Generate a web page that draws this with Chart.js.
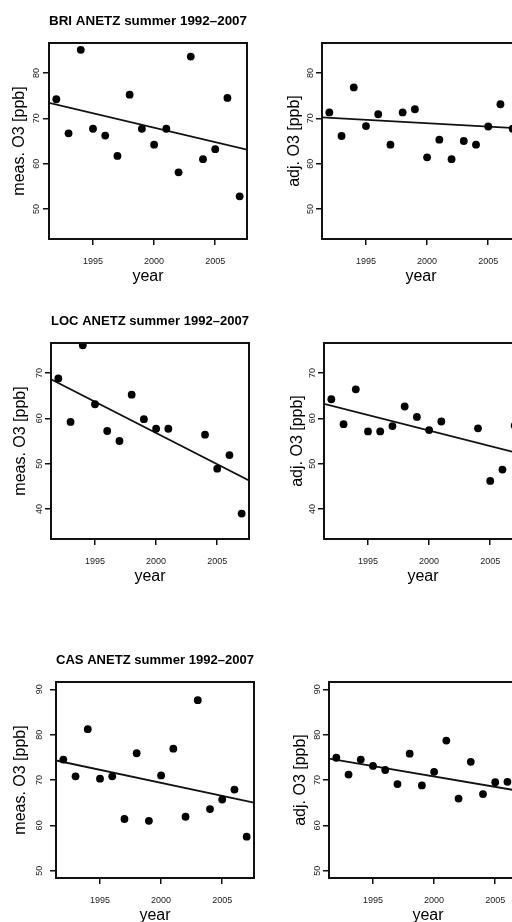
<!DOCTYPE html>
<html>
<head>
<meta charset="utf-8">
<script src="https://cdn.jsdelivr.net/npm/chart.js@4/dist/chart.umd.min.js"></script>
<style>
html, body { margin: 0; padding: 0; background: #fff; overflow: hidden; width: 512px; height: 922px; }
canvas { position: absolute; }
</style>
</head>
<body>
<canvas id="briMeas" width="260" height="290" style="left:0px;top:0px"></canvas>
<canvas id="briAdj" width="260" height="290" style="left:273px;top:0px"></canvas>
<canvas id="locMeas" width="260" height="290" style="left:2px;top:300px"></canvas>
<canvas id="locAdj" width="260" height="290" style="left:275px;top:300px"></canvas>
<canvas id="casMeas" width="260" height="290" style="left:7px;top:639px"></canvas>
<canvas id="casAdj" width="260" height="290" style="left:280px;top:639px"></canvas>
<script>
// summer ozone per year
const years = [1992, 1993, 1994, 1995, 1996, 1997, 1998, 1999, 2000, 2001, 2002, 2003, 2004, 2005, 2006, 2007];

const briMeas = [74.2, 66.7, 85.1, 67.7, 66.2, 61.7, 75.2, 67.7, 64.2, 67.7, 58.1, 83.6, 61.0, 63.2, 74.5, 52.8];
const briAdj  = [71.3, 66.1, 76.8, 68.3, 70.9, 64.2, 71.3, 72.0, 61.4, 65.3, 61.0, 65.0, 64.2, 68.2, 73.1, 67.7];
const locMeas = [68.8, 59.2, 76.1, 63.1, 57.2, 55.0, 65.2, 59.8, 57.7, 57.7, null, null, 56.4, 48.9, 51.9, 39.0];
const locAdj  = [64.2, 58.7, 66.4, 57.1, 57.1, 58.3, 62.6, 60.3, 57.4, 59.3, null, null, 57.8, 46.2, 48.7, 58.4];
const casMeas = [74.5, 70.8, 81.2, 70.3, 70.8, 61.4, 75.9, 61.0, 71.0, 76.9, 61.9, 87.6, 63.6, 65.7, 67.9, 57.5];
const casAdj  = [74.9, 71.2, 74.5, 73.1, 72.2, 69.1, 75.8, 68.8, 71.8, 78.7, 65.9, 74.0, 66.9, 69.5, 69.6, null];

// regression lines, value at both ends of the x range
const trendYears = [1991.4, 2007.6];
const briMeasTrend = [73.4, 63.1];
const briAdjTrend  = [70.2, 67.8];
const locMeasTrend = [68.6, 46.3];
const locAdjTrend  = [63.2, 52.1];
const casMeasTrend = [74.3, 65.0];
const casAdjTrend  = [74.7, 67.3];

const xRange = [1991.4, 2007.6];
const briRange = [43.4, 86.6];
const locRange = [33.4, 76.6];
const casRange = [48.4, 91.6];

const FONT = "'Liberation Sans', Arial, Helvetica, sans-serif";

// draws the box around the plot region like R's box()
const boxPlugin = {
	id: 'box',
	afterDraw(chart) {
		const a = chart.chartArea;
		const c = chart.ctx;
		c.save();
		c.strokeStyle = '#111';
		c.lineWidth = 2;
		c.strokeRect(a.left, a.top, a.right - a.left, a.bottom - a.top);
		c.restore();
	}
};

function makePanel(id, title, values, trend, yRange, yLabel, yTitleGap, yTickGap)
{
	const ctx = document.getElementById(id).getContext('2d');
	return new Chart(ctx, {
		type: 'scatter',
		data: {
			datasets: [{
				data: years.map((y, i) => ({ x: y, y: values[i] })),
				backgroundColor: '#000',
				borderWidth: 0,
				pointRadius: 3.9,
				clip: 0
			}, {
				data: trendYears.map((y, i) => ({ x: y, y: trend[i] })),
				showLine: true,
				borderColor: '#111',
				borderWidth: 1.8,
				pointRadius: 0,
				clip: 0
			}]
		},
		options: {
			responsive: false,
			animation: false,
			events: [],
			layout: { padding: { top: title ? 0 : 43, right: 13, left: 0, bottom: 0 } },
			plugins: {
				legend: { display: false },
				tooltip: { enabled: false },
				title: {
					display: !!title,
					text: title,
					fullSize: false,
					color: '#000',
					font: { family: FONT, size: 13.5, weight: 'bold', lineHeight: 1.2 },
					padding: { top: 12.8, bottom: 14 }
				}
			},
			scales: {
				x: {
					type: 'linear',
					min: xRange[0],
					max: xRange[1],
					afterFit: s => { s.height = 51; },
					ticks: {
						stepSize: 5,
						includeBounds: false,
						callback: v => String(v),
						color: '#1a1a1a',
						font: { family: FONT, size: 9 },
						padding: 11,
						maxRotation: 0
					},
					grid: { drawOnChartArea: false, drawTicks: true, tickLength: 6, color: '#111', lineWidth: 1.5 },
					border: { display: true, color: '#111', width: 2 },
					title: {
						display: true,
						text: 'year',
						color: '#000',
						font: { family: FONT, size: 16, lineHeight: 1.2 },
						padding: { top: 0, bottom: 4 }
					}
				},
				y: {
					type: 'linear',
					min: yRange[0],
					max: yRange[1],
					afterFit: s => { s.width = 49; },
					ticks: {
						stepSize: 10,
						includeBounds: false,
						minRotation: 90,
						maxRotation: 90,
						crossAlign: 'center',
						color: '#1a1a1a',
						font: { family: FONT, size: 9 },
						padding: yTickGap
					},
					grid: { drawOnChartArea: false, drawTicks: true, tickLength: 6, color: '#111', lineWidth: 1.5 },
					border: { display: true, color: '#111', width: 2 },
					title: {
						display: true,
						text: yLabel,
						color: '#000',
						font: { family: FONT, size: 16, lineHeight: 1.2 },
						padding: { top: yTitleGap, bottom: 0 }
					}
				}
			}
		},
		plugins: [boxPlugin]
	});
}

makePanel('briMeas', 'BRI ANETZ summer 1992\u20132007', briMeas, briMeasTrend, briRange, 'meas. O3 [ppb]', 10, 1);
makePanel('briAdj', '', briAdj, briAdjTrend, briRange, 'adj. O3 [ppb]', 12, 0);
makePanel('locMeas', 'LOC ANETZ summer 1992\u20132007', locMeas, locMeasTrend, locRange, 'meas. O3 [ppb]', 9, 0);
makePanel('locAdj', '', locAdj, locAdjTrend, locRange, 'adj. O3 [ppb]', 12.5, 0);
makePanel('casMeas', 'CAS ANETZ summer 1992\u20132007', casMeas, casMeasTrend, casRange, 'meas. O3 [ppb]', 4, 5);
makePanel('casAdj', '', casAdj, casAdjTrend, casRange, 'adj. O3 [ppb]', 10.5, 0);
</script>
</body>
</html>
